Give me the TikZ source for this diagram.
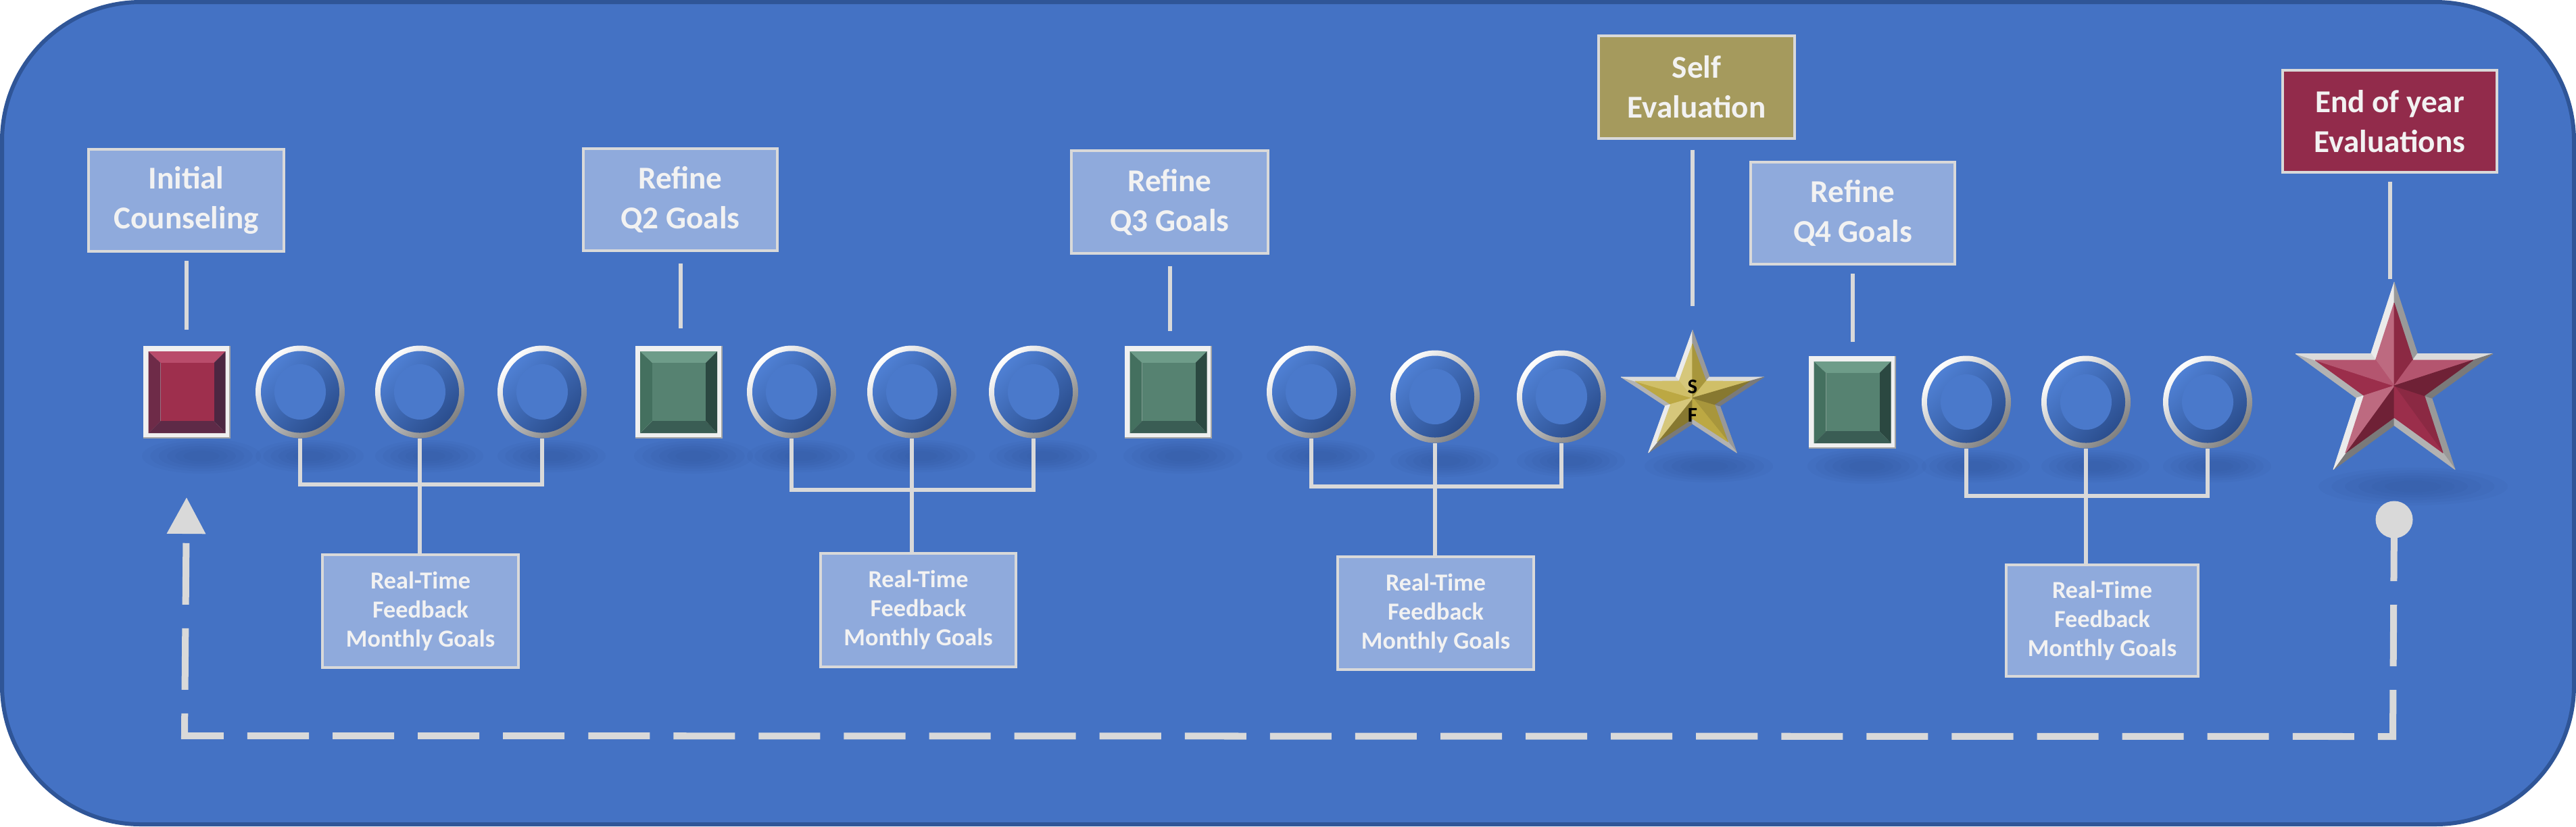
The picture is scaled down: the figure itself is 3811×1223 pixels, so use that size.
\documentclass[tikz,border=0pt]{standalone}
\usepackage{fontspec}
\setmainfont{Carlito}
\usetikzlibrary{arrows.meta}
\definecolor{bgc}{HTML}{4472C4}
\definecolor{bordc}{HTML}{2F5597}
\definecolor{labc}{HTML}{8FAADC}
\definecolor{linec}{HTML}{D9D9D9}
\definecolor{selfc}{HTML}{A59A5D}
\definecolor{endc}{HTML}{922B4B}
\definecolor{shc}{HTML}{2C4C8C}
\definecolor{starred}{HTML}{A3304F}
\definecolor{stargold}{HTML}{C6B147}
\definecolor{txtc}{HTML}{F2F2F2}
\definecolor{ringlight}{HTML}{4F80D4}
\definecolor{ringdark}{HTML}{2B4E8E}
\definecolor{beadin}{HTML}{4A79CB}
% green square tones
\definecolor{gIn}{HTML}{568271}
\definecolor{gTop}{HTML}{6E9C89}
\definecolor{gLeft}{HTML}{44705F}
\definecolor{gRight}{HTML}{2B4841}
\definecolor{gBot}{HTML}{3A5D54}
% red square tones
\definecolor{rIn}{HTML}{9E2F4D}
\definecolor{rTop}{HTML}{B94C6B}
\definecolor{rLeft}{HTML}{6E2B48}
\definecolor{rRight}{HTML}{4C2641}
\definecolor{rBot}{HTML}{5E2A47}

\tikzset{
  toplab/.style={draw=linec, line width=0.04cm, fill=labc, text=txtc,
    font=\fontsize{13.4}{16.8}\selectfont\bfseries, align=center,
    minimum height=1.51cm, inner sep=0pt},
  botlab/.style={draw=linec, line width=0.035cm, fill=labc, text=txtc,
    font=\fontsize{10.3}{12.2}\selectfont\bfseries, align=center,
    minimum width=2.9cm, minimum height=1.67cm, inner sep=0pt},
  conn/.style={draw=linec, line width=0.06cm},
  anchorbox/.style={inner sep=0pt, outer sep=0pt, minimum width=1.3cm, minimum height=1.37cm},
  ret/.style={draw=linec, line width=0.1cm, dash pattern=on 0.91cm off 0.35cm},
  sflab/.style={text=black, font=\fontsize{8.8}{10}\selectfont\bfseries, inner sep=0pt},
}

\newcommand\shadowat[3]{%
  \foreach \k in {1.0,0.86,0.72,0.58,0.44,0.3}
    {\fill[shc, opacity=0.07] #1 ellipse [x radius=#2*\k, y radius=#3*\k];}}

\newcommand\bead[1]{%
  \shade[top color=white, bottom color=black!50, shading angle=45] (#1.center) ellipse [x radius=66, y radius=68.5];
  \shade[top color=ringlight, bottom color=ringdark, shading angle=45] (#1.center) ellipse [x radius=58, y radius=60.5];
  \fill[beadin] (#1.center) ellipse [x radius=38, y radius=41];
}

\newcommand\bevsq[6]{%
  \begin{scope}[shift={(#1.center)}]
    \fill[black!35] (-64.5,-68.5) rectangle (64.5,68.5);
    \fill[white!94!black] (-64.5,-68.5) rectangle (62.5,66.5);
    \fill[#3] (-57,-60.5) -- (57,-60.5) -- (40,-43.5) -- (-39,-43.5) -- cycle;
    \fill[#6] (-57,60.5) -- (57,60.5) -- (40,42.5) -- (-39,42.5) -- cycle;
    \fill[#4] (-57,-60.5) -- (-39,-43.5) -- (-39,42.5) -- (-57,60.5) -- cycle;
    \fill[#5] (57,-60.5) -- (40,-43.5) -- (40,42.5) -- (57,60.5) -- cycle;
    \fill[#2] (-39,-43.5) rectangle (40,42.5);
  \end{scope}}

\newcommand\facetstar[4]{%
  \colorlet{sbase}{#4}%
  \begin{scope}[shift={(#1.center)}, xscale=#2, yscale=-#3]
    \foreach \sa/\sb/\sv/\cv in {90/126/white!92!black/sbase!72!white,
        90/54/white!60!black/sbase!85!black,
        162/198/white!70!black/sbase!95!black,
        162/126/white!86!black/sbase!82!white,
        234/270/white!48!black/sbase!68!black,
        234/198/white!92!black/sbase!72!white,
        306/342/white!60!black/sbase!85!black,
        306/270/white!70!black/sbase!95!black,
        18/54/white!86!black/sbase!82!white,
        18/342/white!48!black/sbase!68!black}
      {\path[fill=\sv, draw=\sv, line width=0.3pt, line join=round] (0,0) -- (\sa:100) -- (\sb:38.2) -- cycle;}
    \foreach \sa/\sb/\sv/\cv in {90/126/white!92!black/sbase!72!white,
        90/54/white!60!black/sbase!85!black,
        162/198/white!70!black/sbase!95!black,
        162/126/white!86!black/sbase!82!white,
        234/270/white!48!black/sbase!68!black,
        234/198/white!92!black/sbase!72!white,
        306/342/white!60!black/sbase!85!black,
        306/270/white!70!black/sbase!95!black,
        18/54/white!86!black/sbase!82!white,
        18/342/white!48!black/sbase!68!black}
      {\path[fill=\cv, draw=\cv, line width=0.3pt, line join=round] (0,0) -- (\sa:80) -- (\sb:30.6) -- cycle;}
  \end{scope}}

\begin{document}
\begin{tikzpicture}[x=0.01cm, y=-0.01cm]
\useasboundingbox (0,0) rectangle (3811,1223);
\draw[fill=bgc, draw=bordc, line width=0.06cm, rounded corners=2.05cm] (3,3) rectangle (3808,1220);

% ---- anchor nodes for the timeline shapes
\node[anchorbox] (sq1) at (276.5,580.5) {};
\node[anchorbox, minimum width=1.32cm] (c11) at (444,580) {};
\node[anchorbox, minimum width=1.32cm] (c12) at (621,580) {};
\node[anchorbox, minimum width=1.32cm] (c13) at (802,580) {};
\node[anchorbox] (sq2) at (1004,580.5) {};
\node[anchorbox, minimum width=1.32cm] (c21) at (1171,580) {};
\node[anchorbox, minimum width=1.32cm] (c22) at (1349,580) {};
\node[anchorbox, minimum width=1.32cm] (c23) at (1529,580) {};
\node[anchorbox] (sq3) at (1728.5,580.5) {};
\node[anchorbox, minimum width=1.32cm] (c31) at (1940,580) {};
\node[anchorbox, minimum width=1.32cm] (c32) at (2123,587) {};
\node[anchorbox, minimum width=1.32cm] (c33) at (2310,587) {};
\node[anchorbox, minimum width=2.22cm, minimum height=2.0cm] (starS) at (2504,589) {};
\node[anchorbox] (sq4) at (2740.5,595.5) {};
\node[anchorbox, minimum width=1.32cm] (c41) at (2909,595) {};
\node[anchorbox, minimum width=1.32cm] (c42) at (3086,595) {};
\node[anchorbox, minimum width=1.32cm] (c43) at (3266,595) {};
\node[anchorbox, minimum width=3.06cm, minimum height=3.06cm] (starE) at (3542,571) {};

% ---- soft shadows
\shadowat{(298,675)}{88}{26}
\shadowat{(458,675)}{80}{24}
\shadowat{(635,675)}{80}{24}
\shadowat{(816,675)}{80}{24}
\shadowat{(1026,675)}{88}{26}
\shadowat{(1185,675)}{80}{24}
\shadowat{(1363,675)}{80}{24}
\shadowat{(1543,675)}{80}{24}
\shadowat{(1750,675)}{88}{26}
\shadowat{(1954,675)}{80}{24}
\shadowat{(2137,682)}{80}{24}
\shadowat{(2324,682)}{80}{24}
\shadowat{(2528,690)}{95}{24}
\shadowat{(2762,690)}{88}{26}
\shadowat{(2923,690)}{80}{24}
\shadowat{(3100,690)}{80}{24}
\shadowat{(3280,690)}{80}{24}
\shadowat{(3570,720)}{140}{28}

% ---- shapes
\bevsq{sq1}{rIn}{rTop}{rLeft}{rRight}{rBot}
\bevsq{sq2}{gIn}{gTop}{gLeft}{gRight}{gBot}
\bevsq{sq3}{gIn}{gTop}{gLeft}{gRight}{gBot}
\bevsq{sq4}{gIn}{gTop}{gLeft}{gRight}{gBot}
\bead{c11}\bead{c12}\bead{c13}
\bead{c21}\bead{c22}\bead{c23}
\bead{c31}\bead{c32}\bead{c33}
\bead{c41}\bead{c42}\bead{c43}
\facetstar{starS}{1.11}{1.0}{stargold}
\facetstar{starE}{1.53}{1.53}{starred}
\node[sflab] (sS) at (2504,572) {S};
\node[sflab] (sF) at (2504,614) {F};

% ---- top labels
\node[toplab, minimum width=2.89cm] (lab1) at (275.5,296.5) {Initial\\Counseling};
\node[toplab, minimum width=2.87cm] (lab2) at (1006.5,295.5) {Refine\\Q2 Goals};
\node[toplab, minimum width=2.91cm] (lab3) at (1730.5,299) {Refine\\Q3 Goals};
\node[toplab, minimum width=2.90cm, fill=selfc] (labS) at (2510,129) {Self\\Evaluation};
\node[toplab, minimum width=3.01cm] (lab4) at (2741,315.5) {Refine\\Q4 Goals};
\node[toplab, minimum width=3.17cm, fill=endc] (labE) at (3535.5,179.5) {End of year\\Evaluations};

\draw[conn, shorten <=0.12cm, shorten >=0.235cm] (lab1.south) -- (lab1.south |- sq1.north);
\draw[conn, shorten <=0.17cm, shorten >=0.255cm] (lab2.south) -- (lab2.south |- sq2.north);
\draw[conn, shorten <=0.17cm, shorten >=0.22cm] (lab3.south) -- (lab3.south |- sq3.north);
\draw[conn, shorten <=0.15cm, shorten >=0.36cm] (starS.north |- labS.south) -- (starS.north);
\draw[conn, shorten <=0.12cm, shorten >=0.205cm] (lab4.south) -- (lab4.south |- sq4.north);
\draw[conn, shorten <=0.12cm, shorten >=0.05cm] (labE.south) -- (labE.south |- starE.north);

% ---- brackets and feedback boxes
\node[botlab] (fb1) at (622,904.5) {Real-Time\\Feedback\\Monthly Goals};
\node[botlab, minimum width=2.89cm, minimum height=1.68cm] (fb2) at (1358.5,903) {Real-Time\\Feedback\\Monthly Goals};
\node[botlab] (fb3) at (2124,907.5) {Real-Time\\Feedback\\Monthly Goals};
\node[botlab, minimum width=2.84cm, minimum height=1.65cm] (fb4) at (3110,918.5) {Real-Time\\Feedback\\Monthly Goals};

\coordinate (bk1) at (621,717);
\coordinate (bk2) at (1349,725);
\coordinate (bk3) at (2123,720);
\coordinate (bk4) at (3086,734);
\draw[conn] (c11.south) |- (bk1) -| (c13.south);
\draw[conn] (c12.south) -- (c12.south |- fb1.north);
\draw[conn] (c21.south) |- (bk2) -| (c23.south);
\draw[conn] (c22.south) -- (c22.south |- fb2.north);
\draw[conn] (c31.south) |- (bk3) -| (c33.south);
\draw[conn] (c32.south) -- (c32.south |- fb3.north);
\draw[conn] (c41.south) |- (bk4) -| (c43.south);
\draw[conn] (c42.south) -- (c42.south |- fb4.north);

% ---- dashed return path
\node[circle, fill=linec, minimum size=0.55cm, inner sep=0pt] (ball) at (3542,769) {};
\coordinate (rbR) at (3540,1090);
\coordinate (rbL) at (273,1089);
\coordinate (atip) at (276,736);
\draw[ret, -{Triangle[width=0.55cm, length=0.54cm]}] (ball.center) -- (rbR) -- (rbL) -- (atip);
\end{tikzpicture}
\end{document}
